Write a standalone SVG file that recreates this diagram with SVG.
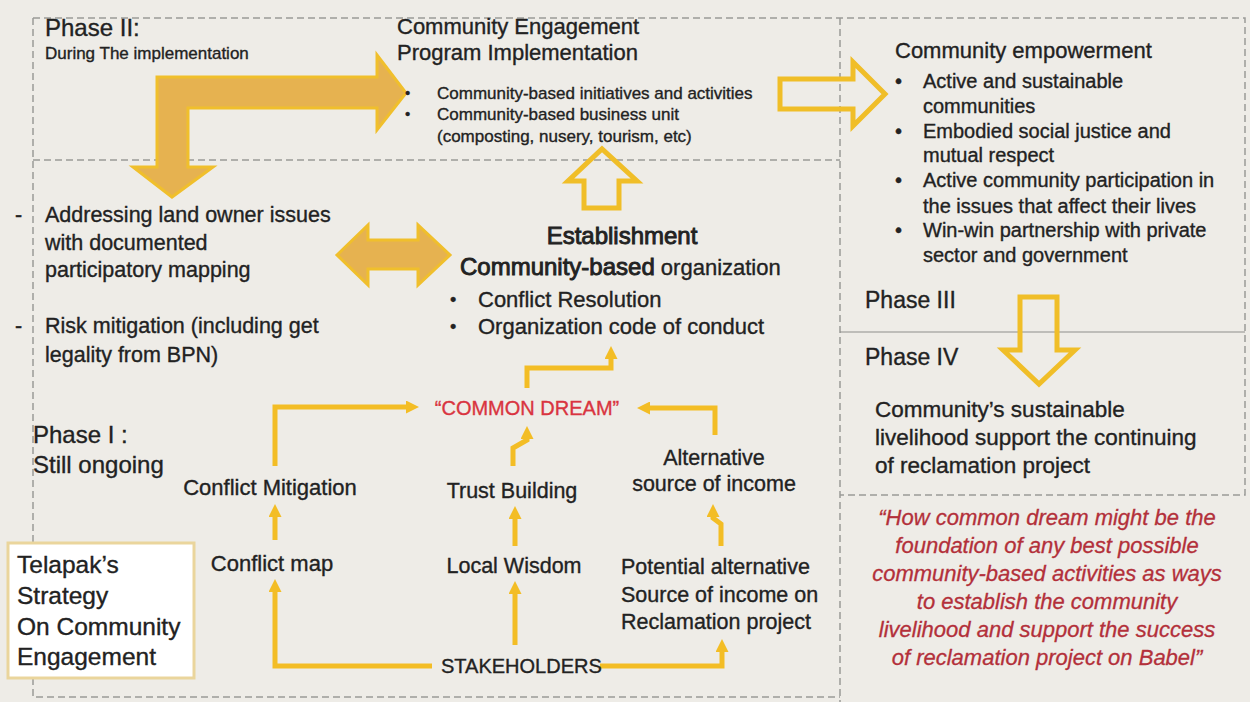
<svg xmlns="http://www.w3.org/2000/svg" width="1250" height="702" viewBox="0 0 1250 702">
  <style>
    .t { font-family: "Liberation Sans", Arial, sans-serif; fill: #222222; stroke: #222222; stroke-width: 0.35; }
    .b { stroke-width: 0.9; }
    .red { fill: #d93440; stroke: #d93440; }
    .quote { font-family: "Liberation Sans", Arial, sans-serif; font-style: italic; fill: #b3303a; stroke: #b3303a; stroke-width: 0.3; font-size: 22px; }
    .dash { fill: none; stroke: #9a9a98; stroke-width: 1.5; stroke-dasharray: 7 4; }
    .solid-gold { fill: #e6b250; stroke: #f0bf2c; stroke-width: 3; stroke-linejoin: miter; }
    .hollow { fill: none; stroke: #f0be28; stroke-width: 5; stroke-linejoin: miter; }
    .flow { fill: none; stroke: #f3bd25; stroke-width: 5; marker-end: url(#head); }
  </style>
  <defs>
    <marker id="head" markerUnits="userSpaceOnUse" markerWidth="13" markerHeight="13" refX="4" refY="6.5" orient="auto">
      <path d="M0,0 L13,6.5 L0,13 z" fill="#f3bd25"/>
    </marker>
  </defs>

  <rect width="1250" height="702" fill="#eeece7"/>

  <!-- phase frames -->
  <g id="frames">
    <path class="dash" d="M33,18 H1245 V495 H840"/>
    <path class="dash" d="M33,18 V697 H840"/>
    <path class="dash" d="M33,160 H840"/>
    <path class="dash" d="M840,18 V702"/>
    <line x1="840" y1="332" x2="1245" y2="332" stroke="#8e8e8c" stroke-width="1.2"/>
  </g>

  <!-- big arrows -->
  <g id="big-arrows">
    <polygon class="solid-gold" points="157,77 377,77 377,55 406,93 377,130 377,108 188,108 188,167 213,167 172,197 133,167 157,167"/>
    <polygon class="solid-gold" points="337,255 368,225 368,240 418,240 418,225 450,255 418,285 418,269 368,269 368,285"/>
    <polygon class="hollow" points="780,79 853,79 853,62 885,94 853,126 853,109 780,109"/>
    <polygon class="hollow" points="584,208 584,181 568,181 602,149 637,181 619,181 619,208"/>
    <polygon class="hollow" points="1020,297 1057,297 1057,350 1075,350 1039,384 1003,350 1020,350"/>
  </g>

  <!-- thin flow connectors -->
  <g id="connectors">
    <path class="flow" d="M432,666 H275 V588"/>
    <path class="flow" d="M275,540 V513"/>
    <path class="flow" d="M275,466 V407 H410"/>
    <path class="flow" d="M513,466 V448 L527,440 V435"/>
    <path class="flow" d="M715,435 V408 H646"/>
    <path class="flow" d="M527,388 V368 H611 V355"/>
    <path class="flow" d="M515,546 V515"/>
    <path class="flow" d="M515,645 V590"/>
    <path class="flow" d="M600,666 H722 V648"/>
    <path class="flow" d="M721,546 V524 L713,518 V513"/>
  </g>

  <!-- Phase II header -->
  <g id="phase2">
    <text class="t" x="45" y="36" font-size="24">Phase II:</text>
    <text class="t" x="45" y="59" font-size="17">During The implementation</text>
  </g>

  <g id="program-implementation">
    <text class="t" x="397" y="34" font-size="22">Community Engagement</text>
    <text class="t" x="397" y="60" font-size="22">Program Implementation</text>
    <text class="t" x="405" y="98" font-size="15">•</text>
    <text class="t" x="437" y="99" font-size="17">Community-based initiatives and activities</text>
    <text class="t" x="405" y="119" font-size="15">•</text>
    <text class="t" x="437" y="120" font-size="17">Community-based business unit</text>
    <text class="t" x="437" y="142" font-size="17">(composting, nusery, tourism, etc)</text>
  </g>

  <g id="empowerment">
    <text class="t" x="895" y="58" font-size="22">Community empowerment</text>
    <g font-size="20">
      <text class="t" x="895" y="88">•</text>
      <text class="t" x="923" y="88">Active and sustainable</text>
      <text class="t" x="923" y="113">communities</text>
      <text class="t" x="895" y="138">•</text>
      <text class="t" x="923" y="138">Embodied social justice and</text>
      <text class="t" x="923" y="162">mutual respect</text>
      <text class="t" x="895" y="187">•</text>
      <text class="t" x="923" y="187">Active community participation in</text>
      <text class="t" x="923" y="213">the issues that affect their lives</text>
      <text class="t" x="895" y="237">•</text>
      <text class="t" x="923" y="237">Win-win partnership with private</text>
      <text class="t" x="923" y="262">sector and government</text>
    </g>
  </g>

  <g id="phase3">
    <text class="t" x="865" y="308" font-size="23">Phase III</text>
  </g>

  <g id="phase4">
    <text class="t" x="865" y="365" font-size="23">Phase IV</text>
    <text class="t" x="875" y="417" font-size="22.5">Community’s sustainable</text>
    <text class="t" x="875" y="445" font-size="22.5">livelihood support the continuing</text>
    <text class="t" x="875" y="473" font-size="22.5">of reclamation project</text>
  </g>

  <g id="quote" text-anchor="middle">
    <text class="quote" x="1047" y="525">“How common dream might be the</text>
    <text class="quote" x="1047" y="553">foundation of any best possible</text>
    <text class="quote" x="1047" y="581">community-based activities as ways</text>
    <text class="quote" x="1047" y="609">to establish the community</text>
    <text class="quote" x="1047" y="637">livelihood and support the success</text>
    <text class="quote" x="1047" y="665">of reclamation project on Babel”</text>
  </g>

  <g id="land-issues" font-size="21.5">
    <text class="t" x="15" y="222">-</text>
    <text class="t" x="45" y="222">Addressing land owner issues</text>
    <text class="t" x="45" y="250">with documented</text>
    <text class="t" x="45" y="277">participatory mapping</text>
    <text class="t" x="15" y="333">-</text>
    <text class="t" x="45" y="333">Risk mitigation (including get</text>
    <text class="t" x="45" y="362">legality from BPN)</text>
  </g>

  <g id="establishment">
    <text class="t b" x="622" y="244" font-size="24" text-anchor="middle">Establishment</text>
    <text class="t" x="460" y="275" font-size="22"><tspan class="b" font-size="24">Community-based</tspan> organization</text>
    <text class="t" x="450" y="306" font-size="18">•</text>
    <text class="t" x="478" y="307" font-size="22">Conflict Resolution</text>
    <text class="t" x="450" y="333" font-size="18">•</text>
    <text class="t" x="478" y="334" font-size="22">Organization code of conduct</text>
  </g>

  <g id="phase1">
    <text class="t" x="33" y="443" font-size="24">Phase I :</text>
    <text class="t" x="33" y="473" font-size="24">Still ongoing</text>
  </g>

  <g id="common-dream">
    <text class="t red" x="527" y="415" font-size="20" text-anchor="middle">“COMMON DREAM”</text>
  </g>

  <g id="conflict-mitigation">
    <text class="t" x="270" y="495" font-size="22" text-anchor="middle">Conflict Mitigation</text>
  </g>
  <g id="trust-building">
    <text class="t" x="512" y="498" font-size="21.5" text-anchor="middle">Trust Building</text>
  </g>
  <g id="alternative-income">
    <text class="t" x="714" y="465" font-size="21.5" text-anchor="middle">Alternative</text>
    <text class="t" x="714" y="491" font-size="21.5" text-anchor="middle">source of income</text>
  </g>
  <g id="conflict-map">
    <text class="t" x="272" y="571" font-size="22" text-anchor="middle">Conflict map</text>
  </g>
  <g id="local-wisdom">
    <text class="t" x="514" y="573" font-size="21.5" text-anchor="middle">Local Wisdom</text>
  </g>
  <g id="potential-income" font-size="21.5">
    <text class="t" x="621" y="574">Potential alternative</text>
    <text class="t" x="621" y="602">Source of income on</text>
    <text class="t" x="621" y="629">Reclamation project</text>
  </g>
  <g id="stakeholders">
    <text class="t" x="441" y="673" font-size="20" stroke-width="0.7">STAKEHOLDERS</text>
  </g>

  <g id="telapak">
    <rect x="8" y="543" width="186" height="135" fill="#ffffff" stroke="#ead59c" stroke-width="3"/>
    <text class="t" x="17" y="573" font-size="24.5">Telapak’s</text>
    <text class="t" x="17" y="604" font-size="24.5">Strategy</text>
    <text class="t" x="17" y="635" font-size="24.5">On Community</text>
    <text class="t" x="17" y="665" font-size="24.5">Engagement</text>
  </g>
</svg>
